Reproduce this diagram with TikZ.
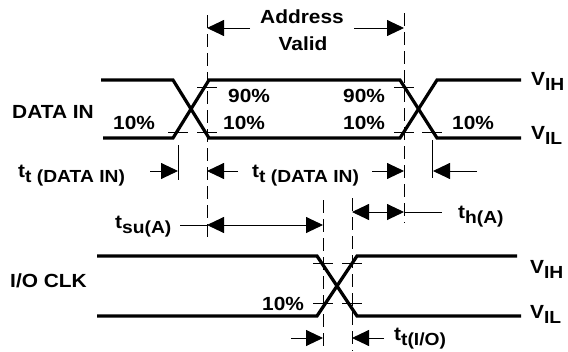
\documentclass[tikz,border=0pt]{standalone}
\usepackage{fontspec}
\setmainfont{Liberation Sans}[FakeStretch=1.1]
\usetikzlibrary{arrows.meta}
% lowered subscript used in the timing labels
\newcommand\sbx[1]{\raisebox{-5.5pt}{\fontsize{17.5}{17.5}\selectfont #1}}
\begin{document}
\begin{tikzpicture}[x=1pt,y=-1pt,
  wave/.style={line width=3.2pt},
  guide/.style={line width=0.9pt, dash pattern=on 13pt off 6pt},
  thin/.style={line width=0.9pt},
  arr/.style={-{Triangle[length=17pt,width=16pt]}},
  arrboth/.style={{Triangle[length=17pt,width=16pt]}-{Triangle[length=17pt,width=16pt]}},
  lbl/.style={inner sep=0pt, anchor=base west, font=\bfseries\fontsize{19}{19}\selectfont},
  lblc/.style={lbl, anchor=base}]
\useasboundingbox (0,0) rectangle (568,351);

% ---- DATA IN waveform
\draw[wave] (101,80) -- (173,80) -- (209,138) -- (400,138) -- (437,80) -- (521,80);
\draw[wave] (103,138) -- (173,138) -- (209,80) -- (400,80) -- (437,138) -- (521,138);

% ---- I/O CLK waveform
\draw[wave] (97,256) -- (317,256) -- (357,316) -- (521,316);
\draw[wave] (97,316) -- (317,316) -- (357,256) -- (517,256);

% ---- vertical reference lines
\draw[guide] (207,15) -- (207,238);
\draw[guide] (404,13) -- (404,223);
\draw[guide] (323,200) -- (323,351);
\draw[guide] (352,198) -- (352,351);
\draw[thin] (178,145) -- (178,180);
\draw[thin] (432,140) -- (432,178);

% ---- 10% / 90% level ticks
\foreach \x/\y in {178/132, 207/87, 207/132, 404/87, 404/132, 432/132,
                   323/263, 352/263, 323/303, 352/303}
  \draw[thin] (\x-10,\y) -- (\x+10,\y);

% ---- arrow end points
\coordinate (av1) at (250,28);  \coordinate (av1t) at (207,28);
\coordinate (av2) at (354,28);  \coordinate (av2t) at (404,28);
\coordinate (d1) at (150,171);  \coordinate (d1t) at (178,171);
\coordinate (d2) at (238,171);  \coordinate (d2t) at (207,171);
\coordinate (d3) at (372,171);  \coordinate (d3t) at (404,171);
\coordinate (d4) at (477,171);  \coordinate (d4t) at (433,171);
\coordinate (su0) at (180,225); \coordinate (su1) at (207,225); \coordinate (su2) at (323,225);
\coordinate (h1) at (352,212);  \coordinate (h2) at (404,212);  \coordinate (h3) at (442,212);
\coordinate (c1) at (291,338);  \coordinate (c1t) at (323,338);
\coordinate (c2) at (384,338);  \coordinate (c2t) at (352,338);

\draw[thin,arr] (av1) -- (av1t);
\draw[thin,arr] (av2) -- (av2t);
\draw[thin,arr] (d1) -- (d1t);
\draw[thin,arr] (d2) -- (d2t);
\draw[thin,arr] (d3) -- (d3t);
\draw[thin,arr] (d4) -- (d4t);
\draw[thin] (su0) -- (su1);
\draw[thin,arrboth] (su1) -- (su2);
\draw[thin,arrboth] (h1) -- (h2);
\draw[thin] (h2) -- (h3);
\draw[thin,arr] (c1) -- (c1t);
\draw[thin,arr] (c2) -- (c2t);

% ---- labels
\node[lblc] (addr)  at (302,23) {Address};
\node[lblc] (valid) at (303,50) {Valid};
\node[lbl] (datain) at (12,118) {DATA IN};
\node[lbl] (p10a) at (113,129) {10\%};
\node[lbl] (p90a) at (228,102) {90\%};
\node[lbl] (p10b) at (223,129) {10\%};
\node[lbl] (p90b) at (343,102) {90\%};
\node[lbl] (p10c) at (343,129) {10\%};
\node[lbl] (p10d) at (452,129) {10\%};
\node[lbl] (vih1) at (531,85) {V\sbx{IH}};
\node[lbl] (vil1) at (531,139) {V\sbx{IL}};
\node[lbl] (tt1) at (18,177) {t\sbx{t (DATA IN)}};
\node[lbl] (tt2) at (252,177) {t\sbx{t (DATA IN)}};
\node[lbl] (tsu) at (115,228) {t\sbx{su(A)}};
\node[lbl] (th)  at (458,218) {t\sbx{h(A)}};
\node[lbl] (ioclk) at (10,287) {I/O CLK};
\node[lbl] (p10e) at (262,310) {10\%};
\node[lbl] (vih2) at (530,273) {V\sbx{IH}};
\node[lbl] (vil2) at (530,318) {V\sbx{IL}};
\node[lbl] (tio) at (394,340) {t\sbx{t(I/O)}};
\end{tikzpicture}
\end{document}
